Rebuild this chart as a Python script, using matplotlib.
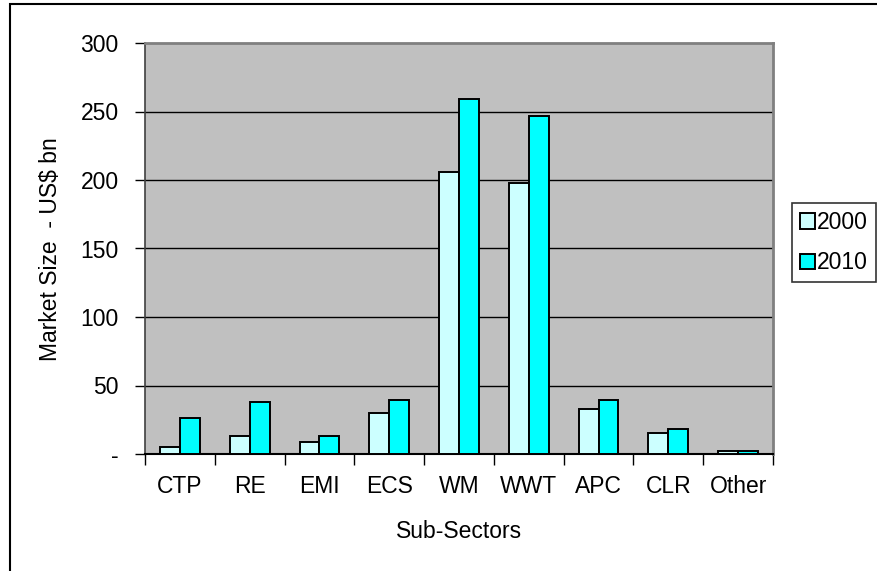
import matplotlib
matplotlib.use("Agg")
import matplotlib.pyplot as plt
import numpy as np
from matplotlib.patches import Rectangle

plt.rcParams['font.family'] = ['Liberation Sans', 'DejaVu Sans']

categories = ["CTP", "RE", "EMI", "ECS", "WM", "WWT", "APC", "CLR", "Other"]
values_2000 = [5, 13, 9, 30, 206, 198, 32.5, 15.5, 2.5]
values_2010 = [26, 38, 13, 39.5, 259, 247, 39.5, 18, 2.5]
series_names = ["2000", "2010"]
y_ticks = [0, 50, 100, 150, 200, 250, 300]
y_tick_labels = ["-", "50", "100", "150", "200", "250", "300"]

W, H = 877, 571
fig = plt.figure(figsize=(W / 100, H / 100), dpi=100)
fig.patch.set_facecolor("white")

# outer chart frame
fig.add_artist(Rectangle((10 / W, -0.1), 1.2, 1.1 - 4 / H, transform=fig.transFigure,
                         facecolor="none", edgecolor="black", linewidth=1.5))

ax = fig.add_axes([145 / W, 1 - 454 / H, (773 - 145) / W, (454 - 43) / H])
ax.set_facecolor("#C0C0C0")

x = np.arange(len(categories))
bw = 1 / 3.5
ax.bar(x - bw / 2, values_2000, width=bw, color="#CCFFFF", edgecolor="black",
       linewidth=1.4, label=series_names[0], zorder=3)
ax.bar(x + bw / 2, values_2010, width=bw, color="#00FFFF", edgecolor="black",
       linewidth=1.4, label=series_names[1], zorder=3)

ax.set_xlim(-0.5, len(categories) - 0.5)
ax.set_ylim(0, 300)
ax.set_yticks(y_ticks)
ax.set_yticklabels(y_tick_labels)
for yv in y_ticks[1:-1]:
    ax.axhline(yv, color="black", linewidth=1.0, zorder=1)

ax.set_xticks(x)
ax.set_xticklabels(categories)
ax.set_xticks(np.arange(len(categories) + 1) - 0.5, minor=True)
ax.tick_params(axis="x", which="major", length=0, pad=15, labelsize=16.5)
ax.tick_params(axis="x", which="minor", length=8, width=1.0, direction="out", color="black")
ax.tick_params(axis="y", length=7, width=1.0, direction="out", pad=12, labelsize=16.5)

for side in ("top", "right"):
    ax.spines[side].set_color("#808080")
    ax.spines[side].set_linewidth(2)
ax.spines["left"].set_color("#404040")
ax.spines["left"].set_linewidth(1.2)
ax.spines["bottom"].set_color("black")
ax.spines["bottom"].set_linewidth(1.5)

fig.text(51 / W, 1 - 249 / H, "Market Size  - US$ bn", rotation=90,
         ha="center", va="center", fontsize=16.5)
fig.text(459 / W, 1 - 531 / H, "Sub-Sectors", ha="center", va="center", fontsize=16.5)

leg = fig.legend(loc="upper left", bbox_to_anchor=(792 / W, 1 - 203 / H),
                 frameon=True, fancybox=False, fontsize=16.5, handlelength=0.65,
                 handleheight=0.65, handletextpad=0.1, borderpad=0.35,
                 labelspacing=0.75, borderaxespad=0, edgecolor="black")
leg.get_frame().set_linewidth(1.2)

fig.savefig("out.png", dpi=100)
